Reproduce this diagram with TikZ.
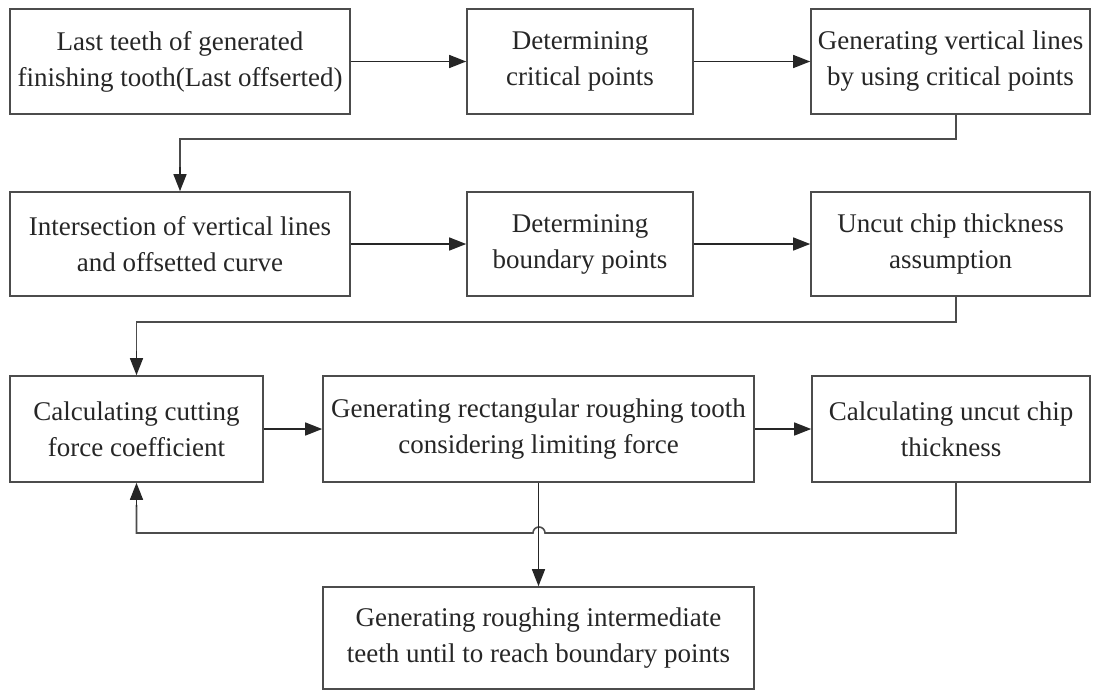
\documentclass[tikz,border=0pt]{standalone}
\usepackage{fontspec}
\setmainfont{Liberation Serif}
\usetikzlibrary{arrows.meta}
\begin{document}
\begin{tikzpicture}[x=1pt, y=-1pt,
    stepbox/.style={draw=black!70, line width=1.6pt, align=center, inner sep=2pt,
        text=black!85, font=\fontsize{27}{36}\selectfont},
    flow/.style={draw=black!85, line width=1.4pt, -{Triangle[length=17pt, width=13pt]}},
    link/.style={draw=black!70, line width=1.6pt}]
    % Khung hình
    \useasboundingbox (0, 0) rectangle (1099, 691);

    % Hàng 1
    \node[stepbox, minimum width=340, minimum height=105] (last) at (180, 61.5)
        {Last teeth of generated\\finishing tooth(Last offserted)};
    \node[stepbox, minimum width=226, minimum height=105] (crit) at (580, 61.5)
        {Determining\\critical points};
    \node[stepbox, minimum width=279, minimum height=105] (vert) at (950.5, 61.5)
        {Generating vertical lines\\by using critical points};

    % Hàng 2
    \node[stepbox, minimum width=340, minimum height=104] (inter) at (180, 244)
        {Intersection of vertical lines\\and offsetted curve};
    \node[stepbox, minimum width=226, minimum height=104] (bound) at (580, 244)
        {Determining\\boundary points};
    \node[stepbox, minimum width=279, minimum height=104] (assum) at (950.5, 244)
        {Uncut chip thickness\\assumption};

    % Hàng 3
    \node[stepbox, minimum width=253, minimum height=106] (coef) at (136.5, 429)
        {Calculating cutting\\force coefficient};
    \node[stepbox, minimum width=431, minimum height=106] (rect) at (538.5, 429)
        {Generating rectangular roughing tooth\\considering limiting force};
    \node[stepbox, minimum width=278, minimum height=106] (uncut) at (951, 429)
        {Calculating uncut chip\\thickness};

    % Hộp cuối
    \node[stepbox, minimum width=431, minimum height=102] (inter2) at (538.5, 638)
        {Generating roughing intermediate\\teeth until to reach boundary points};

    % Các điểm gấp
    \coordinate (k1) at (956, 139);
    \coordinate (k2) at (956, 322);
    \coordinate (k3) at (956, 533);

    % Mũi tên trong hàng
    \draw[flow] (last) -- (crit);
    \draw[flow] (crit) -- (vert);
    \draw[flow] (inter) -- (bound);
    \draw[flow] (bound) -- (assum);
    \draw[flow] (coef) -- (rect);
    \draw[flow] (rect) -- (uncut);

    % Chuyển hàng
    \draw[link] (vert.south -| k1) -- (k1) -| ([yshift=22]inter.north);
    \draw[flow] ([yshift=24]inter.north) -- (inter.north);
    \draw[link] (assum.south -| k2) -- (k2) -| ([yshift=22]coef.north);
    \draw[flow] ([yshift=24]coef.north) -- (coef.north);

    % Vòng phản hồi có cầu vượt
    \draw[link] (uncut.south -| k3) -- (k3) -- (545, 533) arc (0:-180:6)
        -- (coef.south |- k3) -- ([yshift=-22]coef.south);
    \draw[flow] ([yshift=-24]coef.south) -- (coef.south);

    % Xuống hộp cuối
    \draw[flow] (rect) -- (inter2);
\end{tikzpicture}
\end{document}
